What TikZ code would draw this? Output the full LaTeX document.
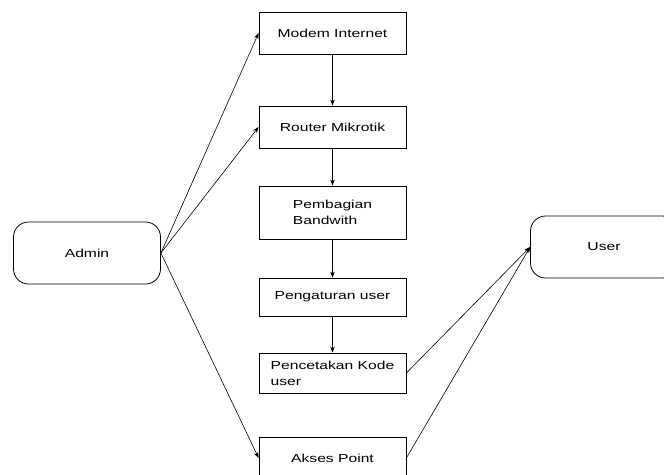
\documentclass[tikz,border=0pt]{standalone}
\usepackage{fontspec}
\setmainfont[FakeStretch=1.35]{Liberation Sans}
\usetikzlibrary{positioning, arrows.meta}

\begin{document}
\begin{tikzpicture}
	[x=1pt, y=-1pt, on grid, >={Stealth[length=6pt,width=4.5pt]},
	 proc/.style={draw, thick, line width=0.8pt, minimum width=147pt, minimum height=42pt,
	   inner sep=0pt, align=left, font=\fontsize{11.6}{16}\selectfont},
	 actor/.style={draw, line width=0.8pt, rounded corners=15pt, minimum width=147pt,
	   minimum height=62pt, font=\fontsize{11.6}{16}\selectfont}]
   \useasboundingbox (0,0) rectangle (664,474);
   \node[actor] (a_1) at (87,253) {Admin};
   \node[actor] (u_1) at (604,247) {User};
   \node[proc] (p_1) at (332.5,33) {Modem Internet};
   \node[proc] (p_2) [below=94pt of p_1] {Router Mikrotik};
   \node[proc, minimum height=53pt] (p_3) [below=85.5pt of p_2] {Pembagian\\Bandwith};
   \node[proc, minimum height=38pt] (p_4) [below=84.5pt of p_3] {Pengaturan user};
   \node[proc, minimum height=40pt] (p_5) [below=76pt of p_4] {Pencetakan Kode\\user};
   \node[proc] (p_6) [below=85pt of p_5] {Akses Point};
    \path[->, line width=0.6pt]
    (a_1.east) edge (p_1.west)
               edge (p_2.west)
               edge (p_6.west)
    (p_1) edge (p_2)
    (p_2) edge (p_3)
    (p_3) edge (p_4)
    (p_4) edge (p_5)
    (p_5.east) edge (u_1.west)
    (p_6.east) edge (u_1.west);
\end{tikzpicture}
\end{document}
